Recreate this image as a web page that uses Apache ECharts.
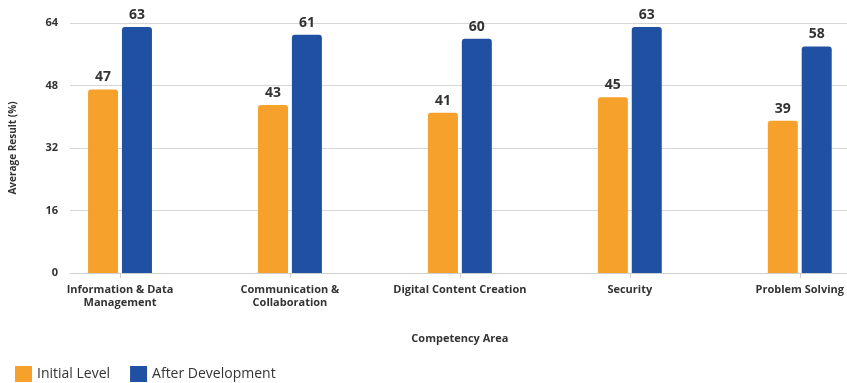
<!DOCTYPE html>
<html>
<head>
<meta charset="utf-8">
<script src="https://cdn.jsdelivr.net/npm/echarts@6/dist/echarts.min.js"></script>
<style>
  html, body { margin: 0; padding: 0; background: #fff; }
  #chart { width: 847px; height: 383px; }
</style>
</head>
<body>
<div id="chart"></div>
<script>
// Competency areas and average results (%)
const categories = [
  'Information & Data\nManagement',
  'Communication &\nCollaboration',
  'Digital Content Creation',
  'Security',
  'Problem Solving'
];
const initialLevel = [47, 43, 41, 45, 39];
const afterDevelopment = [63, 61, 60, 63, 58];
const yTicks = { min: 0, max: 64, interval: 16 };

const FONT = '"Open Sans", "Noto Sans", sans-serif';
const ORANGE = '#F6A12B';
const BLUE = '#1F50A2';

const chart = echarts.init(document.getElementById('chart'));

const valueLabel = {
  show: true,
  position: 'top',
  distance: 5,
  fontFamily: FONT,
  fontSize: 14,
  fontWeight: 'bold',
  color: '#333'
};

chart.setOption({
  animation: false,
  textStyle: { fontFamily: FONT },
  legend: {
    left: 10,
    bottom: -4,
    icon: 'rect',
    itemWidth: 17,
    itemHeight: 16,
    itemGap: 20,
    textStyle: { fontFamily: FONT, fontSize: 14, color: '#333' },
    data: ['Initial Level', 'After Development']
  },
  grid: [
    // frame holding gridlines, value axis and baseline
    { left: 67, right: 0, top: 23, bottom: 110 },
    // category points, one per competency area
    { left: 120, right: 47, top: 23, bottom: 110 }
  ],
  xAxis: [
    {
      gridIndex: 0,
      type: 'category',
      data: [],
      axisLine: { show: true, lineStyle: { color: '#cfcfcf', width: 1 } },
      axisTick: { show: false },
      axisLabel: { show: false }
    },
    {
      gridIndex: 1,
      type: 'category',
      data: categories,
      boundaryGap: false,
      name: 'Competency Area',
      nameLocation: 'middle',
      nameGap: 60,
      nameTextStyle: { fontFamily: FONT, fontSize: 11, fontWeight: 'bold', color: '#333' },
      axisLine: { show: false },
      axisTick: { show: true, length: 5, lineStyle: { color: '#cfcfcf' } },
      axisLabel: {
        margin: 10,
        fontFamily: FONT,
        fontSize: 11,
        fontWeight: 'bold',
        color: '#333',
        lineHeight: 13,
        interval: 0
      },
      splitLine: { show: false }
    }
  ],
  yAxis: [
    {
      gridIndex: 0,
      type: 'value',
      min: yTicks.min,
      max: yTicks.max,
      interval: yTicks.interval,
      name: 'Average Result (%)',
      nameLocation: 'middle',
      nameGap: 52,
      nameTextStyle: { fontFamily: FONT, fontSize: 10, fontWeight: 'bold', color: '#333' },
      axisLine: { show: false },
      axisTick: { show: false },
      axisLabel: { margin: 12, fontFamily: FONT, fontSize: 11, fontWeight: 'bold', color: '#333' },
      splitLine: { show: true, lineStyle: { color: '#d6d6d6', width: 1 } }
    },
    {
      gridIndex: 1,
      type: 'value',
      min: yTicks.min,
      max: yTicks.max,
      interval: yTicks.interval,
      show: false,
      splitLine: { show: false }
    }
  ],
  series: [
    {
      name: 'Initial Level',
      type: 'bar',
      xAxisIndex: 1,
      yAxisIndex: 1,
      clip: false,
      data: initialLevel,
      barWidth: 30,
      barGap: '13%',
      itemStyle: { color: ORANGE, borderRadius: [3, 3, 0, 0] },
      label: valueLabel
    },
    {
      name: 'After Development',
      type: 'bar',
      xAxisIndex: 1,
      yAxisIndex: 1,
      clip: false,
      data: afterDevelopment,
      barWidth: 30,
      itemStyle: { color: BLUE, borderRadius: [3, 3, 0, 0] },
      label: valueLabel
    }
  ]
});
</script>
</body>
</html>
